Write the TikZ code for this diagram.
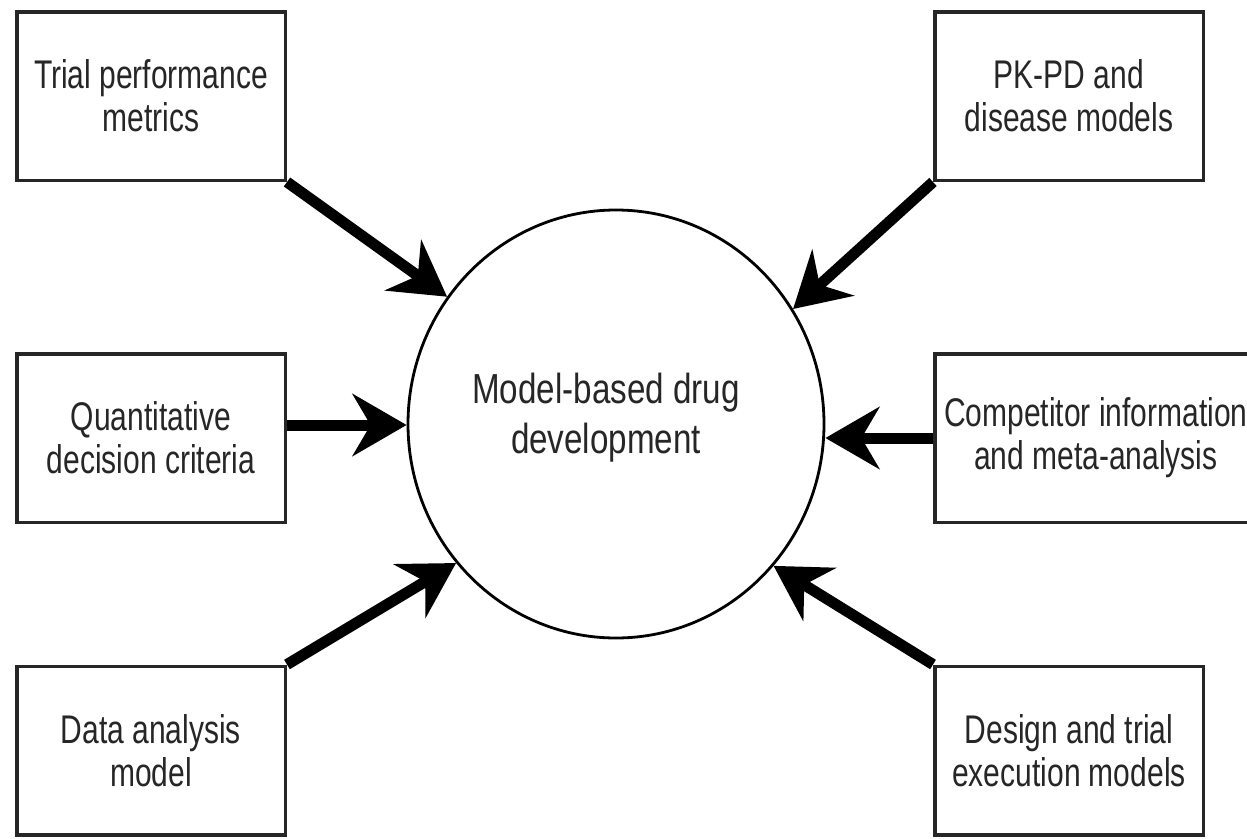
\documentclass[tikz,border=0pt]{standalone}
\usepackage{fontspec}
\newfontfamily\boxfont[FakeStretch=0.75]{Liberation Sans}
\newfontfamily\circfont[FakeStretch=0.79]{Liberation Sans}
\usetikzlibrary{arrows.meta,shapes.geometric}
\begin{document}
\begin{tikzpicture}[x=1pt,y=-1pt,
  boxnode/.style={draw=black!85, line width=3.5pt, minimum width=268.5pt,
    minimum height=168.5pt, inner sep=0pt, align=center, text=black!85,
    font=\boxfont\fontsize{40}{43}\selectfont},
  bigarrow/.style={line width=11pt, black,
    -{Stealth[length=54pt,width=62pt,inset=18pt]}},
  centretext/.style={text=black!85, align=center, inner sep=0pt,
    font=\circfont\fontsize{42}{50}\selectfont}
]
\clip (0,0) rectangle (1247,838);
\fill[white] (0,0) rectangle (1247,838);

\node[boxnode] (tpm) at (151,96) {Trial performance\\metrics};
\node[boxnode] (qdc) at (151,438) {Quantitative\\decision criteria};
\node[boxnode] (dam) at (151,750.5) {Data analysis\\model};
\node[boxnode] (pkpd) at (1069,96) {PK-PD and\\disease models};
\node[boxnode, minimum width=322pt] (cmi) at (1095.75,438) {Competitor information\\and meta-analysis};
\node[boxnode] (dte) at (1069,750.5) {Design and trial\\execution models};

\node[ellipse, draw=black, line width=2.8pt, minimum width=416pt,
  minimum height=428pt, inner sep=0pt] (mbd) at (616,424) {};
\node[centretext] (mbdt) at (606,418) {Model-based drug\\development};

\draw[bigarrow] (tpm.south east) -- (mbd.143.5);
\draw[bigarrow] (pkpd.south west) -- (mbd.33.2);
\draw[bigarrow] ([yshift=13pt]qdc.east) -- ([yshift=13pt]qdc.east -| mbd.west);
\draw[bigarrow] (cmi.west) -- (cmi.west -| mbd.east);
\draw[bigarrow] (dam.north east) -- (mbd.221.2);
\draw[bigarrow] (dte.north west) -- (mbd.318.5);
\end{tikzpicture}
\end{document}
